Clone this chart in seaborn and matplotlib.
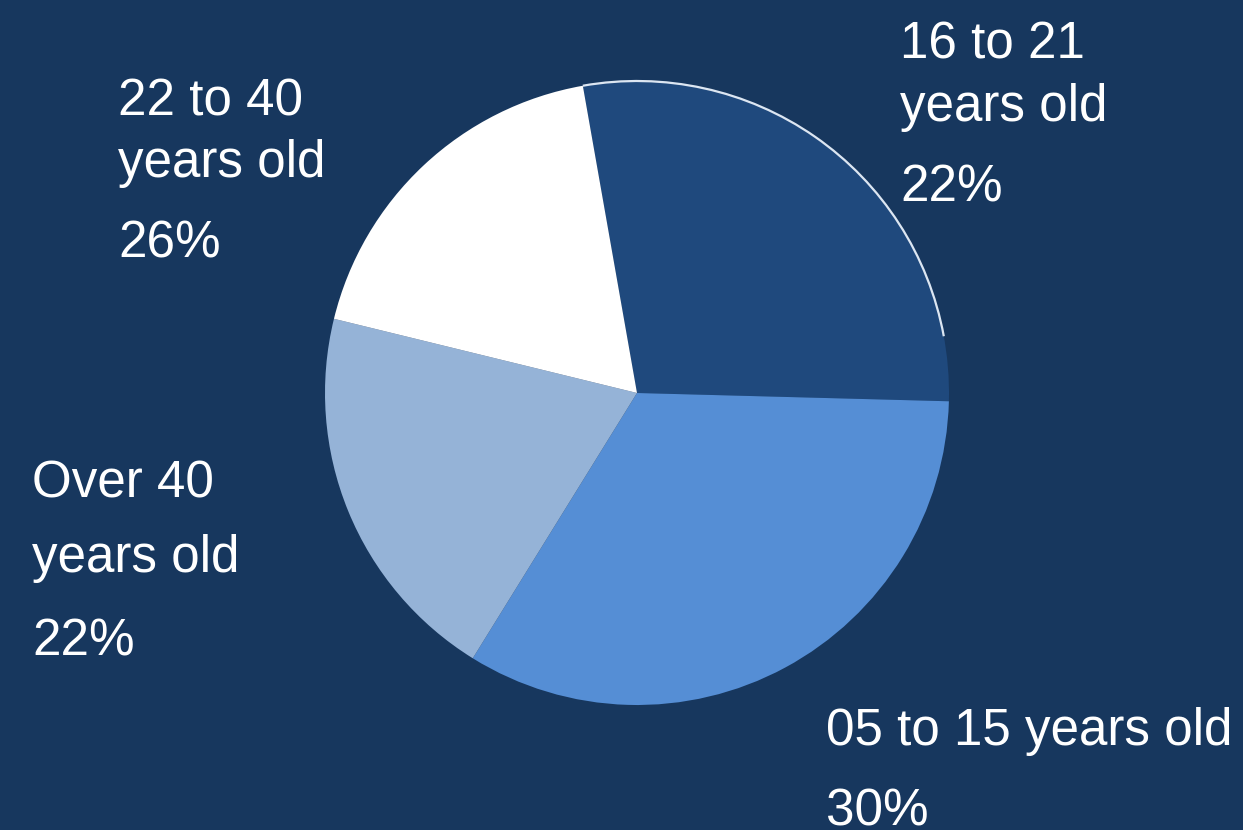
import matplotlib.pyplot as plt
import seaborn as sns
from matplotlib.patches import Arc

# Data
age_groups = ['16 to 21\nyears old', '05 to 15 years old', 'Over 40\nyears old', '22 to 40\nyears old']
slice_shares = [28.2, 33.4, 20.0, 18.4]   # slice sizes as drawn
label_pcts = ['22%', '30%', '22%', '26%']  # percentages printed on the chart

colors = ['#1F497D', '#558ED5', '#95B3D7', '#FFFFFF']
bg = '#17375E'

sns.set_theme(style="white")
plt.rcParams['font.family'] = ['Liberation Sans', 'DejaVu Sans']

fig = plt.figure(figsize=(12.43, 8.30), dpi=100, facecolor=bg)
ax = fig.add_axes([0, 0, 1, 1])
ax.set_facecolor(bg)

wedges, _ = ax.pie(slice_shares, colors=colors, startangle=100, counterclock=False,
                   center=(637, 437), radius=312, frame=True,
                   wedgeprops=dict(linewidth=0))
ax.set_xlim(0, 1243)
ax.set_ylim(0, 830)
ax.set_aspect('equal')
ax.axis('off')

# thin light rim on the dark slice
w = wedges[0]
ax.add_patch(Arc(w.center, 2 * w.r, 2 * w.r, theta1=w.theta1 + 12, theta2=w.theta2,
                 color='#DCE6F2', lw=1.6))

# label positions: (x, baselines of each line) in pixels from the top
label_pos = [
    (900, [59, 121, 202]),
    (826, [745, 825]),
    (32, [497, 572, 655]),
    (118, [115, 177, 258]),
]
for name, pct, (x, ys) in zip(age_groups, label_pcts, label_pos):
    lines = name.split('\n') + [pct]
    for line, y in zip(lines, ys):
        ax.text(x, 830 - y, line, color='white', fontsize=36.8,
                ha='left', va='baseline')

plt.savefig('out.png', dpi=100, facecolor=bg)
